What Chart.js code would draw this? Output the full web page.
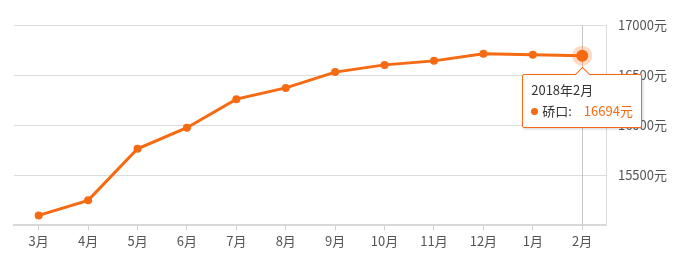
<!DOCTYPE html>
<html>
<head>
<meta charset="utf-8">
<script src="https://cdn.jsdelivr.net/npm/chart.js@4"></script>
<style>
  html, body { margin: 0; padding: 0; background: #fff; }
  #wrap { position: relative; width: 680px; height: 259px; }
  #tip {
    position: absolute; display: none; background: #fff;
    border: 1px solid #f66a12; border-radius: 2px;
    box-shadow: 1px 1px 3px rgba(0,0,0,0.18);
    font-family: "Noto Sans CJK SC", sans-serif; font-size: 13px; color: #333;
    padding: 5px 8px 5px 8px; white-space: nowrap; box-sizing: border-box;
  }
  #tip .caret {
    position: absolute; top: -6px; width: 10px; height: 10px; background: #fff;
    border-left: 1px solid #f66a12; border-top: 1px solid #f66a12;
    transform: rotate(45deg);
  }
  #tip .dot { display: inline-block; width: 7px; height: 7px; border-radius: 50%; background: #f66a12; margin-right: 4px; vertical-align: 1px; }
  #tip .val { color: #f66a12; margin-left: 12px; }
</style>
</head>
<body>
<div id="wrap">
  <canvas id="chart" width="680" height="259"></canvas>
  <div id="tip"></div>
</div>
<script>
// data
const months = ['3月', '4月', '5月', '6月', '7月', '8月', '9月', '10月', '11月', '12月', '1月', '2月'];
const tipTitles = ['2017年3月', '2017年4月', '2017年5月', '2017年6月', '2017年7月', '2017年8月',
  '2017年9月', '2017年10月', '2017年11月', '2017年12月', '2018年1月', '2018年2月'];
const prices = [15100, 15250, 15765, 15975, 16260, 16372, 16530, 16602, 16642, 16714, 16704, 16694];
const seriesName = '硚口';
const orange = '#f66a12';

// vertical crosshair + halo on the active point
const crosshair = {
  id: 'crosshair',
  afterDatasetsDraw(chart) {
    const act = chart.getActiveElements();
    if (!act.length) return;
    const pt = act[0].element;
    const { ctx, chartArea } = chart;
    ctx.save();
    ctx.strokeStyle = '#c8c8c8';
    ctx.lineWidth = 1;
    ctx.beginPath();
    ctx.moveTo(Math.round(pt.x) + 0.5, chartArea.top);
    ctx.lineTo(Math.round(pt.x) + 0.5, chartArea.bottom);
    ctx.stroke();
    ctx.fillStyle = 'rgba(246,106,18,0.25)';
    ctx.beginPath();
    ctx.arc(pt.x, pt.y, 10, 0, Math.PI * 2);
    ctx.fill();
    ctx.fillStyle = orange;
    ctx.beginPath();
    ctx.arc(pt.x, pt.y, 6, 0, Math.PI * 2);
    ctx.fill();
    ctx.restore();
  }
};

function htmlTip(context) {
  const tip = document.getElementById('tip');
  const m = context.tooltip;
  if (m.opacity === 0 || !m.dataPoints || !m.dataPoints.length) { tip.style.display = 'none'; return; }
  const dp = m.dataPoints[0];
  tip.innerHTML = '<div class="caret"></div>' +
    '<div style="line-height:20px">' + tipTitles[dp.dataIndex] + '</div>' +
    '<div style="line-height:22px"><span class="dot"></span>' + seriesName + ':<span class="val">' +
    dp.raw + '元</span></div>';
  tip.style.display = 'block';
  const x = dp.element.x, y = dp.element.y;
  const w = tip.offsetWidth;
  let left = x - w / 2;
  tip.style.left = left + 'px';
  tip.style.top = (y + 18) + 'px';
  tip.querySelector('.caret').style.left = (x - left - 6) + 'px';
}

const chart = new Chart(document.getElementById('chart'), {
  type: 'line',
  data: {
    labels: months,
    datasets: [{
      label: seriesName,
      data: prices,
      borderColor: orange,
      backgroundColor: orange,
      borderWidth: 3,
      pointRadius: 4,
      pointHoverRadius: 4,
      pointBackgroundColor: orange,
      pointBorderWidth: 0,
      tension: 0
    }]
  },
  options: {
    responsive: false,
    animation: false,
    events: [],
    layout: { padding: { left: 14, right: 2, top: 25, bottom: 7 } },
    plugins: {
      legend: { display: false },
      tooltip: { enabled: false, external: htmlTip }
    },
    scales: {
      x: {
        offset: true,
        grid: { display: true, drawOnChartArea: false, tickLength: 5, color: '#d0d0d0', offset: false },
        border: { color: '#d8d8d8', width: 2 },
        ticks: {
          color: '#555',
          font: { family: '"Noto Sans CJK SC", sans-serif', size: 13 },
          padding: 3,
          maxRotation: 0,
          autoSkip: false
        }
      },
      y: {
        position: 'right',
        min: 15000,
        max: 17000,
        grid: { color: '#dcdcdc', drawTicks: false },
        border: { display: true, color: '#dcdcdc' },
        ticks: {
          stepSize: 500,
          padding: 11,
          color: '#555',
          font: { family: '"Noto Sans CJK SC", sans-serif', size: 13 },
          callback: v => v === 15000 ? '' : v + '元'
        }
      }
    }
  },
  plugins: [crosshair]
});

const last = prices.length - 1;
chart.setActiveElements([{ datasetIndex: 0, index: last }]);
chart.tooltip.setActiveElements([{ datasetIndex: 0, index: last }], { x: 0, y: 0 });
chart.update();
</script>
</body>
</html>
